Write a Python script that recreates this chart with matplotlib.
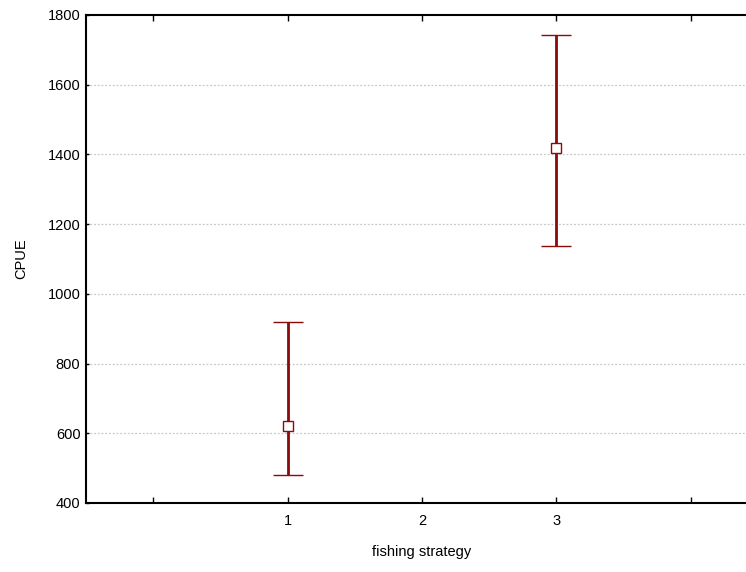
import numpy as np
import matplotlib.pyplot as plt

plt.rcParams['font.family'] = ['Liberation Sans', 'DejaVu Sans']

strategy = [1, 3]
cpue_mean = [621, 1419]
cpue_low = [480, 1137]
cpue_high = [919, 1744]

fig = plt.figure(figsize=(7.46, 5.72), dpi=100)
ax = fig.add_axes([86 / 746, 69 / 572, 672 / 746, 488 / 572])

mean = np.array(cpue_mean)
yerr = [mean - np.array(cpue_low), np.array(cpue_high) - mean]
ax.errorbar(strategy, mean, yerr=yerr, fmt='s', color='#8b0a0a', ecolor='#8b0a0a',
            elinewidth=2, capsize=10.5, capthick=2.2, markersize=7,
            markerfacecolor='white', markeredgecolor='#8b0a0a', markeredgewidth=1, zorder=3)

ax.set_xlim(-0.5, 4.5)
ax.set_ylim(400, 1800)
ax.set_xticks([0, 1, 2, 3, 4])
ax.set_xticklabels(['', '1', '2', '3', ''])
ax.set_yticks(np.arange(400, 1801, 200))
ax.tick_params(direction='in', length=4, width=1, labelsize=10.5, top=True, pad=8)
ax.tick_params(axis='y', length=2, pad=4)
for y in range(600, 1800, 200):
    ax.axhline(y, color='#c8c8c8', linestyle=(0, (1.5, 1.5)), linewidth=0.9, zorder=1)
for s in ax.spines.values():
    s.set_linewidth(1.5)
ax.spines['right'].set_visible(False)

ax.set_xlabel('fishing strategy', fontsize=10.5, labelpad=12)
ax.set_ylabel('CPUE', fontsize=10.5, labelpad=14)

fig.savefig('out.png', dpi=100)
